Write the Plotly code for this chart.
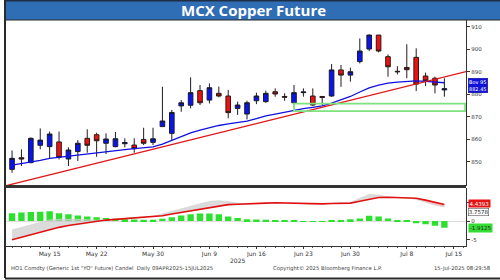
import plotly.graph_objects as go

# ---------------- data ----------------
dates = ["2025-05-09", "2025-05-12", "2025-05-13", "2025-05-14", "2025-05-15", "2025-05-16",
         "2025-05-19", "2025-05-20", "2025-05-21", "2025-05-22", "2025-05-23",
         "2025-05-26", "2025-05-27", "2025-05-28", "2025-05-29", "2025-05-30",
         "2025-06-02", "2025-06-03", "2025-06-04", "2025-06-05", "2025-06-06",
         "2025-06-09", "2025-06-10", "2025-06-11", "2025-06-12", "2025-06-13",
         "2025-06-16", "2025-06-17", "2025-06-18", "2025-06-19", "2025-06-20",
         "2025-06-23", "2025-06-24", "2025-06-25", "2025-06-26", "2025-06-27",
         "2025-06-30", "2025-07-01", "2025-07-02", "2025-07-03", "2025-07-04",
         "2025-07-07", "2025-07-08", "2025-07-09", "2025-07-10", "2025-07-11",
         "2025-07-14"]
next_days = ["2025-07-15"]

open_ = [846.6, 851.8, 849.6, 857.3, 856.7, 858.8, 851.2, 854.5, 860.4, 862.0, 858.2,
         856.7, 858.0, 857.4, 859.9, 858.6, 865.6, 862.6, 874.8, 875.1, 881.6,
         877.4, 880.4, 879.2, 873.7, 871.2, 877.1, 876.7, 881.1, 879.0, 876.2,
         880.7, 879.2, 879.0, 879.2, 890.8, 888.5, 894.5, 900.1, 906.3, 896.7,
         890.2, 891.9, 896.4, 888.1, 887.1, 881.9]
high = [855.0, 855.5, 860.8, 864.8, 863.4, 863.4, 856.4, 859.6, 864.4, 862.9, 862.6,
        863.2, 860.4, 860.4, 865.1, 865.1, 883.3, 873.0, 877.4, 887.5, 884.1,
        884.8, 883.4, 881.9, 876.7, 877.1, 880.7, 881.6, 882.6, 880.4, 884.1,
        882.6, 882.6, 879.0, 893.4, 893.0, 891.8, 904.8, 906.6, 906.3, 897.7,
        892.5, 902.2, 900.4, 889.6, 887.8, 887.1]
low = [845.1, 848.1, 849.3, 855.5, 851.5, 851.0, 848.1, 850.3, 854.0, 852.2, 853.4,
       856.4, 856.4, 854.0, 857.4, 857.4, 865.6, 859.6, 872.2, 873.7, 875.2,
       875.9, 878.6, 869.3, 870.8, 868.8, 875.6, 876.2, 878.9, 877.1, 875.5,
       878.9, 874.8, 875.2, 878.9, 883.3, 885.6, 893.7, 899.2, 898.6, 887.8,
       888.8, 887.1, 881.4, 883.6, 880.4, 878.9]
close = [851.5, 851.2, 860.4, 859.6, 862.3, 851.9, 855.2, 858.2, 857.3, 859.3, 860.1,
         860.2, 858.5, 855.8, 858.2, 860.2, 868.1, 871.9, 876.2, 880.7, 876.2,
         882.9, 879.2, 871.8, 875.2, 876.2, 879.2, 880.4, 880.1, 878.7, 880.7,
         881.0, 875.2, 878.6, 890.8, 888.5, 890.0, 899.2, 906.3, 899.2, 892.2,
         890.0, 890.9, 884.5, 885.9, 884.1, 882.45]

ma_line = [848.5, 849.2, 849.7, 850.6, 851.5, 852.0, 852.4, 853.0, 853.6, 854.2, 854.6,
           855.0, 855.4, 855.8, 856.2, 856.6, 857.8, 859.5, 861.2, 862.8, 864.0,
           865.2, 866.1, 866.8, 867.3, 868.0, 869.2, 870.4, 871.2, 872.0, 873.0,
           873.6, 874.2, 874.8, 876.0, 877.5, 879.0, 881.0, 882.8, 884.0, 884.9,
           885.4, 885.8, 885.9, 885.7, 885.4, 885.1]

trend_anchor_dates = ["2025-05-09", "2025-07-14"]
trend_anchor_vals = [840.0, 887.7]

support_start = "2025-06-20"
support_zone = [872.5, 875.8]

osc_line = [-5.0, -4.3, -3.6, -2.9, -2.2, -1.7, -1.2, -0.8, -0.4, 0.0, 0.25,
            0.45, 0.6, 0.75, 0.9, 1.1, 1.4, 1.9, 2.3, 2.7, 3.1,
            3.6, 4.1, 4.4, 4.5, 4.55, 4.65, 4.8, 4.9, 4.85, 4.7,
            4.6, 4.5, 4.6, 4.7, 4.7, 4.8, 5.3, 5.9, 6.3, 6.35,
            6.3, 6.25, 6.1, 5.6, 5.0, 4.44]
osc_signal = [-2.4, -1.7, -0.9, -0.2, 0.3, 0.45, 0.5, 0.45, 0.35, 0.2, 0.3,
              0.5, 0.65, 0.8, 0.95, 1.3, 1.9, 2.6, 3.4, 4.0, 4.6,
              5.2, 5.4, 5.2, 4.8, 4.6, 4.7, 4.85, 4.95, 4.9, 4.75,
              4.65, 4.55, 4.65, 4.75, 4.75, 4.9, 6.1, 7.1, 7.0, 6.4,
              6.3, 6.25, 5.8, 5.0, 4.3, 3.76]
osc_hist = [2.1, 2.3, 2.4, 2.5, 2.6, 2.1, 1.8, 1.5, 1.2, 1.0, 0.8,
            0.6, 0.5, 0.4, 0.35, 0.35, 0.6, 1.0, 1.5, 1.8, 2.0,
            2.0, 1.8, 1.2, 0.8, 0.5, 0.4, 0.35, 0.3, 0.2, 0.05,
            -0.2, -0.25, -0.05, 0.2, 0.3, 0.5, 0.7, 1.4, 1.2, 0.7,
            0.2, 0.05, -0.6, -0.9, -1.3, -1.8]

tick_dates = ["2025-05-15", "2025-05-22", "2025-05-30", "2025-06-09", "2025-06-16",
              "2025-06-23", "2025-06-30", "2025-07-08", "2025-07-15"]
tick_labels = ["May 15", "May 22", "May 30", "Jun 9", "Jun 16", "Jun 23", "Jun 30", "Jul 8", "Jul 15"]
year_label_date = "2025-06-12"

price_ticks = [850, 860, 870, 880, 890, 900, 910]
osc_ticks = [-5, 0, 5]
osc_tick_labels = ["-5", "0", ""]

title = "MCX Copper Future"
last_tag = ["Bov 95", "882.45"]
osc_tags = ["4.4393", "3.7578", "-1.9125"]
footer_left = 'HO1 Comdty (Generic 1st "YO" Future) Candel  Daily 09APR2025-15JUL2025'
footer_mid = "Copyright\u00a9 2025 Bloomberg Finance L.P."
footer_right = "15-Jul-2025 08:29:58"

# ---------------- positions from the trading-day calendar ----------------
axis_days = dates + next_days
pos = lambda d: axis_days.index(d)
x = [pos(d) for d in dates]
x_range = [-0.75, 48.3]
y_range = [839.2, 913.0]
osc_range = [-6.62, 8.85]

ta = [pos(d) for d in trend_anchor_dates]
slope = (trend_anchor_vals[1] - trend_anchor_vals[0]) / (ta[1] - ta[0])
trend_x = [x_range[0], x_range[1]]
trend_y = [trend_anchor_vals[0] + slope * (t - ta[0]) for t in trend_x]

fig = go.Figure()

fig.add_trace(go.Candlestick(
    x=x, open=open_, high=high, low=low, close=close,
    increasing=dict(fillcolor="#0a14f0", line=dict(color="#1a1a2a", width=1)),
    decreasing=dict(fillcolor="#ee1111", line=dict(color="#2a1a1a", width=1)),
    whiskerwidth=0, xaxis="x", yaxis="y", showlegend=False, hoverinfo="skip"))

fig.add_trace(go.Scatter(x=x, y=ma_line, mode="lines", line=dict(color="#1010e0", width=1.3),
                         xaxis="x", yaxis="y", showlegend=False, hoverinfo="skip"))
fig.add_trace(go.Scatter(x=trend_x, y=trend_y, mode="lines", line=dict(color="#e01818", width=1.3),
                         xaxis="x", yaxis="y", showlegend=False, hoverinfo="skip"))

# oscillator panel
fig.add_trace(go.Bar(x=x, y=osc_hist, marker=dict(color="#2ee02e", line=dict(width=0)),
                     width=0.68, xaxis="x2", yaxis="y2", showlegend=False, hoverinfo="skip"))
split = pos("2025-07-09")
segments = [(0, split + 1, "rgba(200,200,200,0.65)"), (split, len(x), "rgba(240,150,150,0.6)")]
for a, b, col in segments:
    fig.add_trace(go.Scatter(x=x[a:b], y=osc_signal[a:b], mode="lines",
                             line=dict(color="rgba(210,210,210,0.9)", width=0.8),
                             xaxis="x2", yaxis="y2", showlegend=False, hoverinfo="skip"))
    fig.add_trace(go.Scatter(x=x[a:b], y=osc_line[a:b], mode="lines", line=dict(width=0),
                             fill="tonexty", fillcolor=col,
                             xaxis="x2", yaxis="y2", showlegend=False, hoverinfo="skip"))
fig.add_trace(go.Scatter(x=x, y=osc_line, mode="lines", line=dict(color="#e01010", width=1.6),
                         xaxis="x2", yaxis="y2", showlegend=False, hoverinfo="skip"))

W, H = 500, 280
px = lambda v: v / W
py = lambda v: 1 - v / H
axis_font = dict(family="DejaVu Sans", size=5.5, color="#333333")

fig.update_layout(
    width=W, height=H, margin=dict(l=0, r=0, t=0, b=0),
    paper_bgcolor="white", plot_bgcolor="white",
    xaxis=dict(domain=[px(5), px(466)], range=x_range, showticklabels=False, showgrid=False,
               zeroline=False, ticks="", anchor="y", rangeslider=dict(visible=False)),
    yaxis=dict(domain=[py(186), py(20)], range=y_range, side="right", anchor="x",
               tickvals=price_ticks, ticks="outside", ticklen=3, tickwidth=1, tickcolor="#333",
               showline=True, linecolor="#333", linewidth=1.2, showgrid=False, zeroline=False,
               tickfont=axis_font),
    xaxis2=dict(domain=[px(5), px(466)], range=x_range, anchor="y2", showgrid=False, zeroline=False,
                tickvals=[pos(d) for d in tick_dates], ticktext=tick_labels,
                ticks="outside", ticklen=2, tickcolor="#333", showline=True, linecolor="#333",
                linewidth=1, tickfont=dict(family="DejaVu Sans", size=6, color="#333"),
                minor=dict(dtick=1, tick0=0, ticks="outside", ticklen=1.5, tickcolor="#555")),
    yaxis2=dict(domain=[py(245.7), py(188)], range=osc_range, side="right", anchor="x2",
                tickvals=osc_ticks, ticktext=osc_tick_labels, ticks="outside", ticklen=3,
                tickcolor="#333", showline=True, linecolor="#333", linewidth=1.2, showgrid=False,
                zeroline=True, zerolinecolor="#dddddd", zerolinewidth=1, tickfont=axis_font),
    bargap=0.3,
)

shapes = [
    # title bar
    dict(type="rect", xref="paper", yref="paper", x0=px(5), x1=1, y0=py(20), y1=1,
         fillcolor="#2f6db5", line=dict(width=0), layer="below"),
    dict(type="line", xref="paper", yref="paper", x0=px(5), x1=1, y0=py(0.7), y1=py(0.7),
         line=dict(color="#1e2e45", width=1.5)),
    dict(type="line", xref="paper", yref="paper", x0=px(5), x1=1, y0=py(20), y1=py(20),
         line=dict(color="#2a2a2a", width=1)),
    # frame
    dict(type="line", xref="paper", yref="paper", x0=px(5), x1=px(5), y0=py(278), y1=1,
         line=dict(color="#2a2a2a", width=2)),
    dict(type="line", xref="paper", yref="paper", x0=px(5), x1=1, y0=py(278.5), y1=py(278.5),
         line=dict(color="#2a2a2a", width=2)),
    # panel separator
    dict(type="line", xref="paper", yref="paper", x0=px(5), x1=px(466), y0=py(186.5), y1=py(186.5),
         line=dict(color="#333333", width=3)),
    # support zone
    dict(type="rect", xref="x", yref="y", x0=pos(support_start), x1=x_range[1] - 0.1,
         y0=support_zone[0], y1=support_zone[1], line=dict(color="#7ee27e", width=1.8),
         fillcolor="rgba(0,0,0,0)"),
]
fig.update_layout(shapes=shapes)

ann = [
    dict(text="<b>" + title + "</b>", xref="paper", yref="paper", x=px(253), y=py(10.5),
         xanchor="center", yanchor="middle", showarrow=False,
         font=dict(family="Open Sans", size=15, color="white")),
    dict(text=last_tag[0] + "<br>" + last_tag[1], xref="paper", yref="y", x=px(468), y=close[-1],
         yshift=3, xanchor="left", yanchor="middle", showarrow=False, align="left",
         bgcolor="#1010d8", bordercolor="#0a0a90", borderwidth=0.5, borderpad=0.5,
         font=dict(family="DejaVu Sans", size=5, color="white")),
    dict(text=osc_tags[0], xref="paper", yref="y2", x=px(468), y=osc_line[-1], yshift=1,
         xanchor="left", yanchor="middle", showarrow=False, bgcolor="#e41414", borderpad=0.5,
         font=dict(family="DejaVu Sans", size=5.5, color="white")),
    dict(text=osc_tags[1], xref="paper", yref="y2", x=px(468), y=osc_signal[-1], yshift=-5,
         xanchor="left", yanchor="middle", showarrow=False, bgcolor="white", bordercolor="#333",
         borderwidth=0.5, borderpad=0.3, font=dict(family="DejaVu Sans", size=5.5, color="#222")),
    dict(text=osc_tags[2], xref="paper", yref="y2", x=px(468), y=osc_hist[-1], xanchor="left",
         yanchor="middle", showarrow=False, bgcolor="#33dd33", borderpad=0.8,
         font=dict(family="DejaVu Sans", size=5.5, color="#222")),
    dict(text="2025", xref="x2", yref="paper", x=pos(year_label_date), y=py(260), xanchor="center",
         yanchor="middle", showarrow=False, font=dict(family="DejaVu Sans", size=6, color="#333")),
    dict(text=footer_left, xref="paper", yref="paper", x=px(9), y=py(268.5), xanchor="left",
         yanchor="middle", showarrow=False, font=dict(family="DejaVu Sans", size=5.3, color="#444")),
    dict(text=footer_mid, xref="paper", yref="paper", x=px(327), y=py(268.5), xanchor="center",
         yanchor="middle", showarrow=False, font=dict(family="DejaVu Sans", size=5.3, color="#444")),
    dict(text=footer_right, xref="paper", yref="paper", x=px(493), y=py(268.5), xanchor="right",
         yanchor="middle", showarrow=False, font=dict(family="DejaVu Sans", size=5.3, color="#444")),
]
fig.update_layout(annotations=ann)

fig.write_html("out.html")
